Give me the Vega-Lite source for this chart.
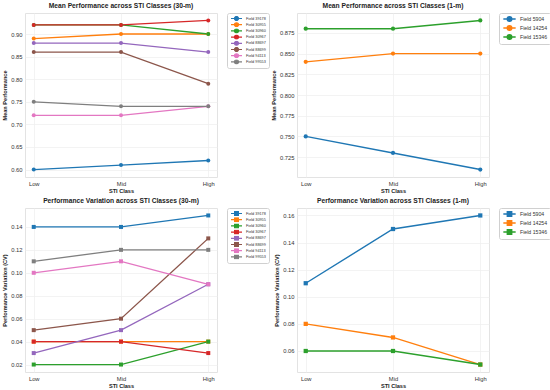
{
  "$schema": "https://vega.github.io/schema/vega-lite/v6.json",
  "padding": {"left": 2, "top": 2, "right": 2, "bottom": 2},
  "datasets": {
    "m30": [
      {"f": "Field 39178", "s": "Low", "v": 0.60}, {"f": "Field 39178", "s": "Mid", "v": 0.61}, {"f": "Field 39178", "s": "High", "v": 0.62},
      {"f": "Field 30955", "s": "Low", "v": 0.89}, {"f": "Field 30955", "s": "Mid", "v": 0.90}, {"f": "Field 30955", "s": "High", "v": 0.90},
      {"f": "Field 30960", "s": "Low", "v": 0.92}, {"f": "Field 30960", "s": "Mid", "v": 0.92}, {"f": "Field 30960", "s": "High", "v": 0.90},
      {"f": "Field 30967", "s": "Low", "v": 0.92}, {"f": "Field 30967", "s": "Mid", "v": 0.92}, {"f": "Field 30967", "s": "High", "v": 0.93},
      {"f": "Field 88697", "s": "Low", "v": 0.88}, {"f": "Field 88697", "s": "Mid", "v": 0.88}, {"f": "Field 88697", "s": "High", "v": 0.86},
      {"f": "Field 88699", "s": "Low", "v": 0.86}, {"f": "Field 88699", "s": "Mid", "v": 0.86}, {"f": "Field 88699", "s": "High", "v": 0.79},
      {"f": "Field 94113", "s": "Low", "v": 0.72}, {"f": "Field 94113", "s": "Mid", "v": 0.72}, {"f": "Field 94113", "s": "High", "v": 0.74},
      {"f": "Field 99553", "s": "Low", "v": 0.75}, {"f": "Field 99553", "s": "Mid", "v": 0.74}, {"f": "Field 99553", "s": "High", "v": 0.74}
    ],
    "m1": [
      {"f": "Field 5904", "s": "Low", "v": 0.75}, {"f": "Field 5904", "s": "Mid", "v": 0.73}, {"f": "Field 5904", "s": "High", "v": 0.71},
      {"f": "Field 14254", "s": "Low", "v": 0.84}, {"f": "Field 14254", "s": "Mid", "v": 0.85}, {"f": "Field 14254", "s": "High", "v": 0.85},
      {"f": "Field 15346", "s": "Low", "v": 0.88}, {"f": "Field 15346", "s": "Mid", "v": 0.88}, {"f": "Field 15346", "s": "High", "v": 0.89}
    ],
    "c30": [
      {"f": "Field 39178", "s": "Low", "v": 0.14}, {"f": "Field 39178", "s": "Mid", "v": 0.14}, {"f": "Field 39178", "s": "High", "v": 0.15},
      {"f": "Field 30955", "s": "Low", "v": 0.04}, {"f": "Field 30955", "s": "Mid", "v": 0.04}, {"f": "Field 30955", "s": "High", "v": 0.04},
      {"f": "Field 30960", "s": "Low", "v": 0.02}, {"f": "Field 30960", "s": "Mid", "v": 0.02}, {"f": "Field 30960", "s": "High", "v": 0.04},
      {"f": "Field 30967", "s": "Low", "v": 0.04}, {"f": "Field 30967", "s": "Mid", "v": 0.04}, {"f": "Field 30967", "s": "High", "v": 0.03},
      {"f": "Field 88697", "s": "Low", "v": 0.03}, {"f": "Field 88697", "s": "Mid", "v": 0.05}, {"f": "Field 88697", "s": "High", "v": 0.09},
      {"f": "Field 88699", "s": "Low", "v": 0.05}, {"f": "Field 88699", "s": "Mid", "v": 0.06}, {"f": "Field 88699", "s": "High", "v": 0.13},
      {"f": "Field 94113", "s": "Low", "v": 0.10}, {"f": "Field 94113", "s": "Mid", "v": 0.11}, {"f": "Field 94113", "s": "High", "v": 0.09},
      {"f": "Field 99553", "s": "Low", "v": 0.11}, {"f": "Field 99553", "s": "Mid", "v": 0.12}, {"f": "Field 99553", "s": "High", "v": 0.12}
    ],
    "c1": [
      {"f": "Field 5904", "s": "Low", "v": 0.11}, {"f": "Field 5904", "s": "Mid", "v": 0.15}, {"f": "Field 5904", "s": "High", "v": 0.16},
      {"f": "Field 14254", "s": "Low", "v": 0.08}, {"f": "Field 14254", "s": "Mid", "v": 0.07}, {"f": "Field 14254", "s": "High", "v": 0.05},
      {"f": "Field 15346", "s": "Low", "v": 0.06}, {"f": "Field 15346", "s": "Mid", "v": 0.06}, {"f": "Field 15346", "s": "High", "v": 0.05}
    ]
  },
  "config": {
    "font": "Liberation Sans",
    "view": {"stroke": "#e3e3e3", "strokeWidth": 1},
    "axis": {"labelFontSize": 5.8, "labelColor": "#333333", "titleFontSize": 5.6, "titleFontWeight": "bold", "titleColor": "#222222", "grid": true, "gridColor": "#eeeeee", "gridWidth": 0.7, "domain": false, "ticks": false, "labelPadding": 3, "titlePadding": 3},
    "title": {"fontSize": 6.7, "fontWeight": "bold", "color": "#222222", "offset": 3},
    "legend": {"strokeColor": "#d0d0d0", "fillColor": "white", "cornerRadius": 2, "padding": 3, "offset": 10, "labelColor": "#333333"}
  },
  "columns": 2,
  "spacing": {"row": 2, "column": 0},
  "resolve": {"scale": {"color": "independent", "x": "independent", "y": "independent"}, "legend": {"color": "independent"}},
  "concat": [
    {
      "title": "Mean Performance across STI Classes (30-m)",
      "width": 192, "height": 164,
      "data": {"name": "m30"},
      "encoding": {
        "x": {"field": "s", "type": "ordinal", "sort": ["Low", "Mid", "High"], "scale": {"type": "point", "padding": 0.1}, "axis": {"title": "STI Class", "labelAngle": 0}},
        "y": {"field": "v", "type": "quantitative", "scale": {"domain": [0.5835, 0.9465], "nice": false, "zero": false}, "axis": {"title": "Mean Performance", "values": [0.6, 0.65, 0.7, 0.75, 0.8, 0.85, 0.9], "format": ".2f"}},
        "color": {"field": "f", "type": "nominal", "sort": null,
          "scale": {"domain": ["Field 39178", "Field 30955", "Field 30960", "Field 30967", "Field 88697", "Field 88699", "Field 94113", "Field 99553"], "range": ["#1f77b4", "#ff7f0e", "#2ca02c", "#d62728", "#9467bd", "#8c564b", "#e377c2", "#7f7f7f"]},
          "legend": {"title": null, "symbolType": "M-2.2,0H2.2M-0.8,0A0.8,0.8,0,1,1,0.8,0A0.8,0.8,0,1,1,-0.8,0Z", "symbolSize": 25, "symbolStrokeWidth": 1.2, "symbolOffset": 3, "labelFontSize": 3.8, "labelOffset": 6, "clipHeight": 5, "rowPadding": 1.2}}
      },
      "layer": [
        {"mark": {"type": "line", "strokeWidth": 1.3}},
        {"mark": {"type": "point", "filled": true, "opacity": 1, "size": 16, "shape": "circle"}}
      ]
    },
    {
      "title": "Mean Performance across STI Classes (1-m)",
      "width": 192, "height": 164,
      "data": {"name": "m1"},
      "encoding": {
        "x": {"field": "s", "type": "ordinal", "sort": ["Low", "Mid", "High"], "scale": {"type": "point", "padding": 0.1}, "axis": {"title": "STI Class", "labelAngle": 0}},
        "y": {"field": "v", "type": "quantitative", "scale": {"domain": [0.701, 0.899], "nice": false, "zero": false}, "axis": {"title": "Mean Performance", "values": [0.725, 0.75, 0.775, 0.8, 0.825, 0.85, 0.875], "format": ".3f"}},
        "color": {"field": "f", "type": "nominal", "sort": null,
          "scale": {"domain": ["Field 5904", "Field 14254", "Field 15346"], "range": ["#1f77b4", "#ff7f0e", "#2ca02c"]},
          "legend": {"title": null, "symbolType": "M-2.25,0H2.25M-0.84,0A0.84,0.84,0,1,1,0.84,0A0.84,0.84,0,1,1,-0.84,0Z", "symbolSize": 30, "symbolStrokeWidth": 1.4, "symbolOffset": 4, "labelFontSize": 5.2, "labelOffset": 7, "clipHeight": 6, "rowPadding": 2}}
      },
      "layer": [
        {"mark": {"type": "line", "strokeWidth": 1.4}},
        {"mark": {"type": "point", "filled": true, "opacity": 1, "size": 18, "shape": "circle"}}
      ]
    },
    {
      "title": "Performance Variation across STI Classes (30-m)",
      "width": 192, "height": 164,
      "data": {"name": "c30"},
      "encoding": {
        "x": {"field": "s", "type": "ordinal", "sort": ["Low", "Mid", "High"], "scale": {"type": "point", "padding": 0.1}, "axis": {"title": "STI Class", "labelAngle": 0}},
        "y": {"field": "v", "type": "quantitative", "scale": {"domain": [0.0135, 0.1565], "nice": false, "zero": false}, "axis": {"title": "Performance Variation (CV)", "values": [0.02, 0.04, 0.06, 0.08, 0.1, 0.12, 0.14], "format": ".2f"}},
        "color": {"field": "f", "type": "nominal", "sort": null,
          "scale": {"domain": ["Field 39178", "Field 30955", "Field 30960", "Field 30967", "Field 88697", "Field 88699", "Field 94113", "Field 99553"], "range": ["#1f77b4", "#ff7f0e", "#2ca02c", "#d62728", "#9467bd", "#8c564b", "#e377c2", "#7f7f7f"]},
          "legend": {"title": null, "symbolType": "M-2.2,0H2.2M-0.75,-0.75H0.75V0.75H-0.75Z", "symbolSize": 25, "symbolStrokeWidth": 1.2, "symbolOffset": 3, "labelFontSize": 3.8, "labelOffset": 6, "clipHeight": 5, "rowPadding": 1.2}}
      },
      "layer": [
        {"mark": {"type": "line", "strokeWidth": 1.3}},
        {"mark": {"type": "point", "filled": true, "opacity": 1, "size": 16, "shape": "square"}}
      ]
    },
    {
      "title": "Performance Variation across STI Classes (1-m)",
      "width": 192, "height": 164,
      "data": {"name": "c1"},
      "encoding": {
        "x": {"field": "s", "type": "ordinal", "sort": ["Low", "Mid", "High"], "scale": {"type": "point", "padding": 0.1}, "axis": {"title": "STI Class", "labelAngle": 0}},
        "y": {"field": "v", "type": "quantitative", "scale": {"domain": [0.0445, 0.1655], "nice": false, "zero": false}, "axis": {"title": "Performance Variation (CV)", "values": [0.06, 0.08, 0.1, 0.12, 0.14, 0.16], "format": ".2f"}},
        "color": {"field": "f", "type": "nominal", "sort": null,
          "scale": {"domain": ["Field 5904", "Field 14254", "Field 15346"], "range": ["#1f77b4", "#ff7f0e", "#2ca02c"]},
          "legend": {"title": null, "symbolType": "M-2.25,0H2.25M-0.8,-0.8H0.8V0.8H-0.8Z", "symbolSize": 30, "symbolStrokeWidth": 1.4, "symbolOffset": 4, "labelFontSize": 5.2, "labelOffset": 7, "clipHeight": 6, "rowPadding": 2}}
      },
      "layer": [
        {"mark": {"type": "line", "strokeWidth": 1.4}},
        {"mark": {"type": "point", "filled": true, "opacity": 1, "size": 18, "shape": "square"}}
      ]
    }
  ]
}
